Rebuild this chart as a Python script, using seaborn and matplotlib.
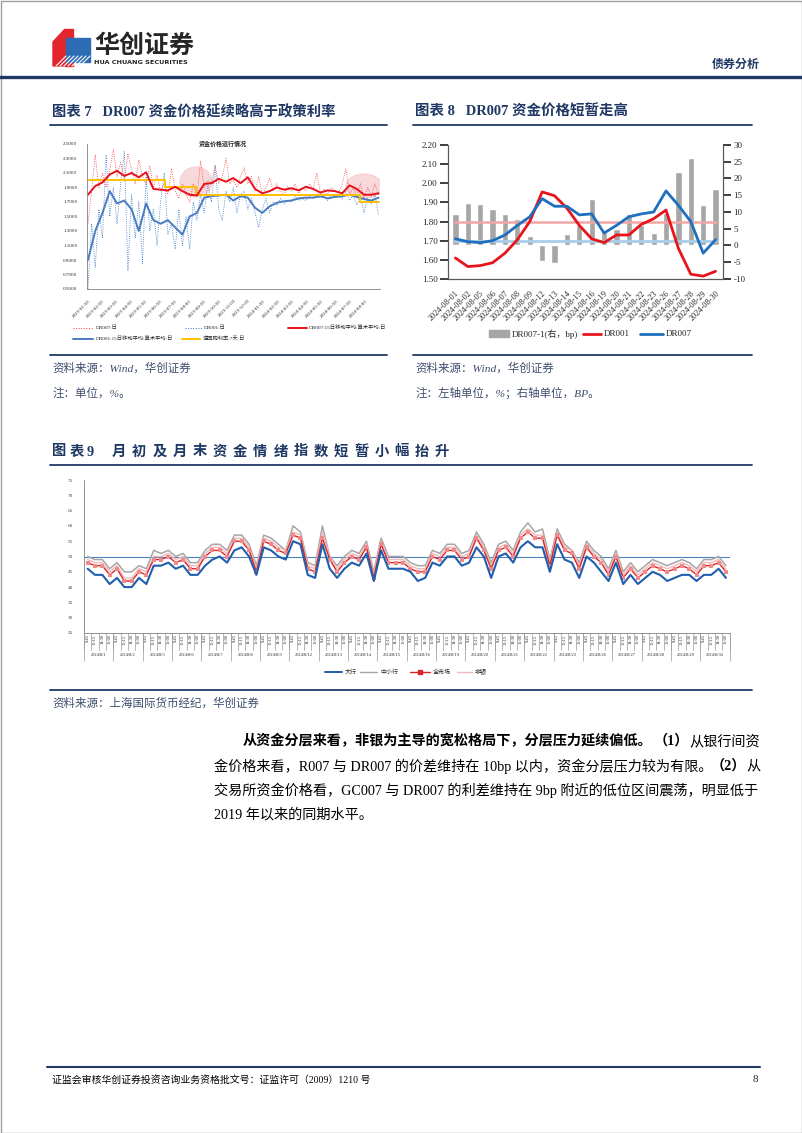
import numpy as np
import pandas as pd
import matplotlib
matplotlib.use("Agg")
import matplotlib.pyplot as plt
from matplotlib.patches import Polygon, Ellipse, Rectangle
import seaborn as sns

sns.set_theme(style="white")
plt.rcParams["font.family"] = ["Liberation Serif", "Noto Sans CJK SC", "DejaVu Sans"]
plt.rcParams["axes.unicode_minus"] = False

NAVY = "#1f3864"
SRC = "#3e4d6e"

# ---------------- 图表7 数据（按周读数） ----------------
dr007_daily = [1.40, 1.85, 2.35, 1.90,
               2.10, 1.90, 2.15, 2.42,
               2.05, 2.25, 2.00, 2.37,
               2.15, 1.95, 2.28, 2.05,
               1.95, 2.20, 1.90, 2.07,
               1.85, 1.95, 1.80, 2.16,
               1.85, 1.75, 1.95, 1.80,
               1.70, 1.95, 1.78, 2.26,
               1.90, 2.00, 1.95, 2.20,
               1.95, 2.05, 2.30, 1.95,
               2.00, 1.90, 2.05, 2.17,
               1.95, 2.05, 1.85, 2.05,
               1.80, 1.90, 2.03, 1.85,
               1.95, 1.85, 1.80, 1.92,
               1.85, 1.95, 1.82, 1.90,
               1.85, 1.95, 1.88, 2.10,
               1.82, 1.88, 1.80, 1.90,
               1.85, 1.82, 1.95, 2.16,
               1.80, 1.90, 1.78, 1.95,
               1.75, 1.90, 1.78, 1.95, 1.80]
dr001_daily = [0.50, 1.40, 0.80, 1.60,
               1.20, 2.35, 1.50, 1.90,
               1.40, 1.95, 2.40, 0.75,
               1.80, 1.20, 1.70, 0.85,
               2.05, 1.30, 1.60, 1.10,
               1.70, 2.10, 1.25, 1.40,
               1.05, 1.60, 1.10, 1.50,
               1.05, 1.70, 1.45, 1.80,
               1.55, 1.95, 1.70, 2.20,
               1.60, 1.45, 1.85, 1.70,
               1.90, 1.55, 1.80, 1.85,
               1.60, 1.75, 1.55, 1.35,
               1.60, 1.75, 1.55, 1.70,
               1.65, 1.75, 1.68, 1.72,
               1.70, 1.78, 1.72, 1.75,
               1.72, 1.78, 1.75, 1.82,
               1.75, 1.78, 1.72, 1.80,
               1.76, 1.80, 1.74, 1.85,
               1.72, 1.80, 1.66, 1.78,
               1.55, 1.75, 1.68, 1.80, 1.52]
dr007_ma = [1.80, 1.92, 1.97, 2.08, 2.13, 2.06, 2.10, 2.04, 2.11, 1.88,
            1.87, 1.86, 1.91, 1.85, 1.80, 1.79, 1.95, 1.96, 2.02, 1.98,
            2.03, 1.96, 2.04, 1.88, 1.82, 1.85, 1.90, 1.87, 1.89, 1.86,
            1.91, 1.88, 1.83, 1.86, 1.85, 1.82, 1.93, 1.88, 1.80, 1.80, 1.82]
dr001_ma = [0.90, 1.30, 1.55, 1.85, 1.68, 1.72, 1.60, 1.30, 1.68, 1.45,
            1.40, 1.45, 1.35, 1.25, 1.50, 1.55, 1.76, 1.78, 1.79, 1.80,
            1.72, 1.78, 1.76, 1.62, 1.55, 1.64, 1.69, 1.71, 1.72, 1.75,
            1.76, 1.76, 1.78, 1.75, 1.77, 1.78, 1.80, 1.77, 1.74, 1.72, 1.76]
policy_dates = ["2023-01-03", "2023-06-13", "2023-08-15", "2024-07-22", "2024-08-30"]
policy_rate = [2.00, 1.90, 1.80, 1.70, 1.70]

# ---------------- 图表8 数据 ----------------
ch8_dates = ["2024-08-01", "2024-08-02", "2024-08-05", "2024-08-06", "2024-08-07",
             "2024-08-08", "2024-08-09", "2024-08-12", "2024-08-13", "2024-08-14",
             "2024-08-15", "2024-08-16", "2024-08-19", "2024-08-20", "2024-08-21",
             "2024-08-22", "2024-08-23", "2024-08-26", "2024-08-27", "2024-08-28",
             "2024-08-29", "2024-08-30"]
ch8_dr001 = [1.61, 1.565, 1.57, 1.585, 1.635, 1.705, 1.80, 1.955, 1.935, 1.87, 1.78,
             1.71, 1.69, 1.73, 1.73, 1.785, 1.815, 1.86, 1.66, 1.525, 1.515, 1.54]
ch8_dr007 = [1.71, 1.695, 1.69, 1.70, 1.73, 1.78, 1.825, 1.92, 1.88, 1.88, 1.835,
             1.84, 1.74, 1.78, 1.825, 1.84, 1.85, 1.96, 1.885, 1.80, 1.635, 1.705]
ch8_spread = [9.3, 12.8, 12.3, 11.0, 9.3, 8.0, 2.9, -4.6, -5.1, 3.3, 6.0,
              13.8, 4.0, 5.0, 9.3, 6.0, 3.6, 9.6, 22.0, 26.0, 12.0, 17.0]

# ---------------- 图表9 数据 ----------------
ch9_days = ["2024/8/1", "2024/8/2", "2024/8/5", "2024/8/6", "2024/8/7", "2024/8/8",
            "2024/8/9", "2024/8/12", "2024/8/13", "2024/8/14", "2024/8/15", "2024/8/16",
            "2024/8/19", "2024/8/20", "2024/8/21", "2024/8/22", "2024/8/23", "2024/8/26",
            "2024/8/27", "2024/8/28", "2024/8/29", "2024/8/30"]
ch9_times = ["9:45", "10:15", "14:30", "16:00"]
big_bank = [46, 44, 44, 41, 43, 40, 40, 43, 41, 47, 47, 48, 46, 47, 44, 44,
            47, 49, 50, 48, 52, 53, 50, 44, 53, 52, 50, 49, 55, 54, 44, 43,
            54, 46, 43, 46, 48, 47, 51, 42, 52, 46, 46, 46, 45, 42, 43, 48,
            47, 50, 50, 47, 48, 53, 50, 43, 50, 51, 48, 53, 55, 53, 53, 45,
            54, 49, 48, 43, 50, 48, 45, 42, 48, 41, 44, 41, 43, 45, 44, 42,
            43, 44, 44, 42, 44, 44, 46, 43]
small_bank = [50, 49, 49, 46, 48, 45, 45, 47, 46, 52, 51, 52, 50, 51, 48, 48,
              52, 54, 54, 52, 57, 57, 54, 47, 57, 56, 54, 52, 60, 58, 48, 47,
              60, 50, 47, 50, 52, 51, 55, 45, 56, 50, 50, 50, 48, 47, 47, 52,
              51, 54, 54, 51, 52, 58, 54, 48, 54, 55, 52, 58, 61, 58, 59, 49,
              59, 54, 52, 48, 55, 52, 50, 46, 52, 45, 48, 45, 47, 49, 48, 47,
              48, 49, 48, 46, 49, 49, 50, 47]
whole_market = [48, 47, 47, 44, 46, 42, 42, 45, 44, 49, 49, 50, 48, 49, 46, 46,
                50, 52, 52, 50, 55, 55, 52, 45, 55, 54, 52, 51, 57, 56, 46, 45,
                56, 49, 45, 48, 50, 49, 53, 43, 54, 48, 48, 48, 46, 45, 45, 50,
                49, 52, 52, 49, 50, 56, 52, 46, 52, 53, 50, 56, 58, 56, 56, 47,
                57, 52, 51, 46, 53, 50, 48, 44, 50, 43, 46, 43, 45, 47, 46, 45,
                46, 47, 46, 44, 47, 47, 48, 45]
non_bank = [49, 48, 48, 45, 47, 43, 43, 46, 45, 50, 50, 51, 49, 50, 47, 47,
            51, 53, 53, 51, 56, 56, 53, 46, 56, 55, 53, 52, 58, 57, 47, 46,
            58, 50, 46, 49, 51, 50, 54, 44, 55, 49, 49, 49, 47, 46, 46, 51,
            50, 53, 53, 50, 51, 57, 53, 47, 53, 54, 51, 57, 59, 57, 57, 48,
            58, 53, 52, 47, 54, 51, 49, 45, 51, 44, 47, 44, 46, 48, 47, 46,
            47, 48, 47, 45, 48, 48, 49, 46]

W, H = 802, 1133
fig = plt.figure(figsize=(W / 100, H / 100), dpi=100)
renderer = fig.canvas.get_renderer()


def rect(x0, y0, x1, y1):
    return [x0 / W, 1 - y1 / H, (x1 - x0) / W, (y1 - y0) / H]


def pt(px):
    return px * 0.72


# page layer in pixel coordinates
page = fig.add_axes([0, 0, 1, 1])
page.set_xlim(0, W)
page.set_ylim(H, 0)
page.axis("off")
page.add_patch(Rectangle((0.5, 0.5), W - 1, H - 1, fill=False, ec="#a0a0a0", lw=1))


def text_line(x0, x1, y, parts, size, color="black", style="normal"):
    objs = []
    for s, b in parts:
        objs.append(page.text(0, y, s, fontsize=size, color=color, style=style,
                              fontweight="bold" if b else "normal", va="center"))
    widths = [o.get_window_extent(renderer).width for o in objs]
    if x1 is not None:
        k = (x1 - x0) / sum(widths)
        for o in objs:
            o.set_fontsize(size * k)
        widths = [w * k for w in widths]
    x = x0
    for o, w in zip(objs, widths):
        o.set_x(x)
        x += w
    return objs[0].get_fontsize()


def spaced(x0, x1, y, s, size, color="black"):
    # evenly spread characters (justified title)
    step = (x1 - x0) / len(s)
    for k, ch in enumerate(s):
        page.text(x0 + k * step, y, ch, fontsize=size, fontweight="bold",
                  color=color, va="center")


# header
page.add_patch(Polygon([(53, 42), (65, 29), (65, 66), (53, 66)], color="#e3262d"))
page.add_patch(Polygon([(65, 29), (73, 29), (73, 66), (65, 66)], color="#e3262d"))
page.add_patch(Polygon([(66, 38), (90, 38), (90, 62), (66, 62)], color="#2b6cb5"))
for k in range(7):
    page.plot([56 + k * 4, 66 + k * 4], [66, 56], color="white", lw=0.8)
page.text(94, 46, "华创证券", fontsize=pt(25), fontweight="bold",
          family=["Noto Sans CJK SC"], va="center")
page.text(94, 62, "HUA CHUANG SECURITIES", fontsize=pt(6.5), fontweight="bold",
          family=["DejaVu Sans"], va="center")
page.text(760, 64, "债券分析", fontsize=pt(12), fontweight="bold", color=NAVY,
          family=["Noto Sans CJK SC"], ha="right", va="center")
page.plot([0, W], [77, 77], color=NAVY, lw=2.4)

# titles and rules
s7 = text_line(52, 335, 112, [("图表 7   DR007 资金价格延续略高于政策利率", True)], pt(13), color=NAVY)
text_line(415, 628, 112, [("图表 8   DR007 资金价格短暂走高", True)], pt(13), color=NAVY)
spaced(52, 104, 452, "图表9", s7, color=NAVY)
spaced(112, 455, 452, "月初及月末资金情绪指数短暂小幅抬升", s7, color=NAVY)
for x0, x1, y in [(50, 387, 125), (413, 752, 125), (50, 387, 355), (413, 752, 355),
                  (50, 752, 465), (50, 752, 690)]:
    page.plot([x0, x1], [y, y], color=NAVY, lw=1.3)

fsrc = pt(11.5)
page.text(52, 368, "资料来源：Wind，华创证券", fontsize=fsrc, color=SRC, style="italic", va="center")
page.text(52, 393, "注：单位，%。", fontsize=fsrc, color=SRC, style="italic", va="center")
page.text(415, 368, "资料来源：Wind，华创证券", fontsize=fsrc, color=SRC, style="italic", va="center")
page.text(415, 393, "注：左轴单位，%；右轴单位，BP。", fontsize=fsrc, color=SRC, style="italic", va="center")
page.text(52, 703, "资料来源：上海国际货币经纪，华创证券", fontsize=fsrc, color=SRC, style="italic", va="center")

# body paragraph
text_line(243, 760, 741, [("从资金分层来看，非银为主导的宽松格局下，分层压力延续偏低。", True),
                          ("（1）", True), ("从银行间资", False)], pt(14))
text_line(214, 760, 766, [("金价格来看，R007 与 DR007 的价差维持在 10bp 以内，资金分层压力较为有限。", False),
                          ("（2）", True), ("从", False)], pt(14))
s3 = text_line(214, 760, 790, [("交易所资金价格看，GC007 与 DR007 的利差维持在 9bp 附近的低位区间震荡，明显低于", False)], pt(14))
text_line(214, None, 815, [("2019 年以来的同期水平。", False)], s3)

# footer
page.plot([47, 760], [1067, 1067], color=NAVY, lw=1.5)
text_line(52, 372, 1080, [("证监会审核华创证券投资咨询业务资格批文号：证监许可（2009）1210 号", False)], pt(10))
page.text(758, 1080, "8", fontsize=pt(11), ha="right", va="center")

# ---------------- 图表7 ----------------
R7 = (87, 144, 380, 289)
ax7 = fig.add_axes(rect(*R7))
ax7.patch.set_alpha(0)
d_daily = pd.date_range("2023-01-03", "2024-08-30", periods=len(dr007_daily))
d_ma = pd.date_range("2023-01-03", "2024-08-30", periods=len(dr007_ma))


def to_ax(x, y):
    return (x - R7[0]) / (R7[2] - R7[0]), (R7[3] - y) / (R7[3] - R7[1])


for cx, cy, ew, eh in [(196, 182, 32, 30), (364, 186, 36, 24)]:
    c = to_ax(cx, cy)
    ax7.add_patch(Ellipse(c, ew / (R7[2] - R7[0]), eh / (R7[3] - R7[1]),
                          transform=ax7.transAxes, color="#f6c9cc", alpha=0.7, zorder=0))

sns.lineplot(x=d_daily, y=dr001_daily, ax=ax7, color="#2f75c5", lw=0.6, linestyle=":")
sns.lineplot(x=d_daily, y=dr007_daily, ax=ax7, color="#ff3b3b", lw=0.6, linestyle=":")
sns.lineplot(x=d_ma, y=dr001_ma, ax=ax7, color="#4a7cc0", lw=1.4)
ax7.step(pd.to_datetime(policy_dates), policy_rate, where="post", color="#ffc000", lw=1.4)
sns.lineplot(x=d_ma, y=dr007_ma, ax=ax7, color="#e8101a", lw=1.4)
ax7.set_ylim(0.5, 2.5)
ax7.set_xlim(pd.Timestamp("2023-01-01"), pd.Timestamp("2024-09-02"))
ax7.set_yticks(np.arange(0.5, 2.51, 0.2))
ax7.set_yticklabels([f"{v:.4f}" for v in np.arange(0.5, 2.51, 0.2)], fontsize=pt(5))
ticks7 = pd.date_range("2023-01-03", periods=20, freq=pd.DateOffset(months=1))
ax7.set_xticks(ticks7)
ax7.set_xticklabels([d.strftime("%Y-%m-%d") for d in ticks7], rotation=45, ha="right",
                    rotation_mode="anchor", fontsize=pt(5))
ax7.tick_params(pad=1)
for s in ["top", "right"]:
    ax7.spines[s].set_visible(False)
for s in ["left", "bottom"]:
    ax7.spines[s].set_color("#808080")
    ax7.spines[s].set_linewidth(0.6)
ax7.set_xlabel("")
ax7.set_ylabel("")
page.text(223, 144, "资金价格运行情况", fontsize=pt(6), fontweight="bold", ha="center", va="center")

fs7 = pt(5.2)
page.plot([73, 93], [328, 328], color="#ff3b3b", lw=0.7, linestyle=":")
page.text(96, 328, "DR007:日", fontsize=fs7, va="center")
page.plot([185, 202], [328, 328], color="#2f75c5", lw=0.7, linestyle=":")
page.text(204, 328, "DR001:日", fontsize=fs7, va="center")
page.plot([288, 307], [328, 328], color="#e8101a", lw=1.4)
page.text(309, 328, "DR007:15日移动平均:算术平均:日", fontsize=fs7, va="center")
page.plot([73, 93], [339, 339], color="#4a7cc0", lw=1.4)
page.text(96, 339, "DR001:15日移动平均:算术平均:日", fontsize=fs7, va="center")
page.plot([182, 200], [339, 339], color="#ffc000", lw=1.4)
page.text(203, 339, "逆回购利率:7天:日", fontsize=fs7, va="center")

# ---------------- 图表8 ----------------
ax8 = fig.add_axes(rect(448, 145, 723, 279))
ax8b = ax8.twinx()
idx8 = np.arange(len(ch8_dates))
sns.barplot(x=idx8, y=ch8_spread, ax=ax8b, color="#a6a6a6", width=0.5,
            saturation=1, errorbar=None)
ax8.set_zorder(ax8b.get_zorder() + 1)
ax8.patch.set_visible(False)
ax8.plot([0, len(idx8) - 1], [1.80, 1.80], color="#f4a7a7", lw=1.8)
ax8.plot([0, len(idx8) - 1], [1.70, 1.70], color="#a9cdea", lw=2.0)
sns.lineplot(x=idx8, y=ch8_dr001, ax=ax8, color="#e8141c", lw=2.0)
sns.lineplot(x=idx8, y=ch8_dr007, ax=ax8, color="#1f6fbf", lw=2.0)
ax8.set_ylim(1.5, 2.2)
ax8b.set_ylim(-10, 30)
ax8.set_xlim(-0.6, len(idx8) - 0.4)
ax8.set_yticks(np.arange(1.5, 2.21, 0.1))
ax8.set_yticklabels([f"{v:.2f}" for v in np.arange(1.5, 2.21, 0.1)], fontsize=pt(9))
ax8b.set_yticks(np.arange(-10, 31, 5))
ax8b.set_yticklabels([str(v) for v in range(-10, 31, 5)], fontsize=pt(9))
ax8.set_xticks(idx8)
ax8.set_xticklabels(ch8_dates, rotation=45, ha="right", rotation_mode="anchor", fontsize=pt(8.3))
ax8.tick_params(pad=1.5)
ax8b.tick_params(pad=1.5)
for a in [ax8, ax8b]:
    a.spines["top"].set_visible(False)
    a.set_xlabel("")
    a.set_ylabel("")
    for s in ["left", "right", "bottom"]:
        a.spines[s].set_color("#595959")
        a.spines[s].set_linewidth(0.8)

fs8 = pt(9)
page.add_patch(Rectangle((489, 330), 20, 7, color="#a6a6a6"))
page.text(512, 334, "DR007-1(右，bp)", fontsize=fs8, va="center")
page.plot([583, 601], [334, 334], color="#e8141c", lw=2)
page.text(604, 334, "DR001", fontsize=fs8, va="center")
page.plot([640, 663], [334, 334], color="#1f6fbf", lw=2)
page.text(666, 334, "DR007", fontsize=fs8, va="center")

# ---------------- 图表9 ----------------
ax9 = fig.add_axes(rect(84, 480, 729.6, 633))
ax9.patch.set_alpha(0)
idx9 = np.arange(len(big_bank))
ax9.axhline(50, color="#4f81bd", lw=0.8)
sns.lineplot(x=idx9, y=small_bank, ax=ax9, color="#a6a6a6", lw=1.1)
sns.lineplot(x=idx9, y=non_bank, ax=ax9, color="#f4b8b8", lw=1.0)
sns.lineplot(x=idx9, y=whole_market, ax=ax9, color="#d9232a", lw=1.0,
             marker="s", markersize=2.2, markerfacecolor="#f08a8a", markeredgewidth=0)
sns.lineplot(x=idx9, y=big_bank, ax=ax9, color="#1f5fae", lw=1.5)
ax9.set_xlim(-0.5, len(idx9) - 0.5)
ax9.set_ylim(25, 75)
ax9.set_yticks(range(25, 76, 5))
ax9.set_yticklabels([str(v) for v in range(25, 76, 5)], fontsize=pt(5.2), color="#404040")
ax9.set_xticks(idx9)
ax9.set_xticklabels(ch9_times * len(ch9_days), rotation=90, fontsize=pt(4.4))
ax9.tick_params(axis="x", pad=1, length=0)
ax9.tick_params(axis="y", pad=2)
ax9.set_xlabel("")
ax9.set_ylabel("")
for s in ["top", "right"]:
    ax9.spines[s].set_visible(False)
for s in ["left", "bottom"]:
    ax9.spines[s].set_color("#808080")
    ax9.spines[s].set_linewidth(0.6)
tr = ax9.get_xaxis_transform()
for i in range(len(idx9) + 1):
    ax9.plot([i - 0.5, i - 0.5], [0, -0.11], transform=tr, clip_on=False, color="#999999", lw=0.5)
for g, day in enumerate(ch9_days):
    ax9.plot([4 * g - 0.5, 4 * g - 0.5], [0, -0.18], transform=tr, clip_on=False, color="#999999", lw=0.5)
    ax9.text(4 * g + 1.5, -0.145, day, transform=tr, ha="center", va="center", fontsize=pt(4.4))
ax9.plot([len(idx9) - 0.5] * 2, [0, -0.18], transform=tr, clip_on=False, color="#999999", lw=0.5)

fs9 = pt(6)
page.plot([325, 342], [672, 672], color="#1f5fae", lw=1.4)
page.text(345, 672, "大行", fontsize=fs9, va="center")
page.plot([360, 377], [672, 672], color="#a6a6a6", lw=1.0)
page.text(380, 672, "中小行", fontsize=fs9, va="center")
page.plot([410, 430], [672, 672], color="#d9232a", lw=1.0)
page.plot([420], [672], marker="s", ms=2.2, color="#d9232a")
page.text(433, 672, "全市场", fontsize=fs9, va="center")
page.plot([457, 472], [672, 672], color="#f4b8b8", lw=1.0)
page.text(475, 672, "非银", fontsize=fs9, va="center")

fig.savefig("out.png", dpi=100)
